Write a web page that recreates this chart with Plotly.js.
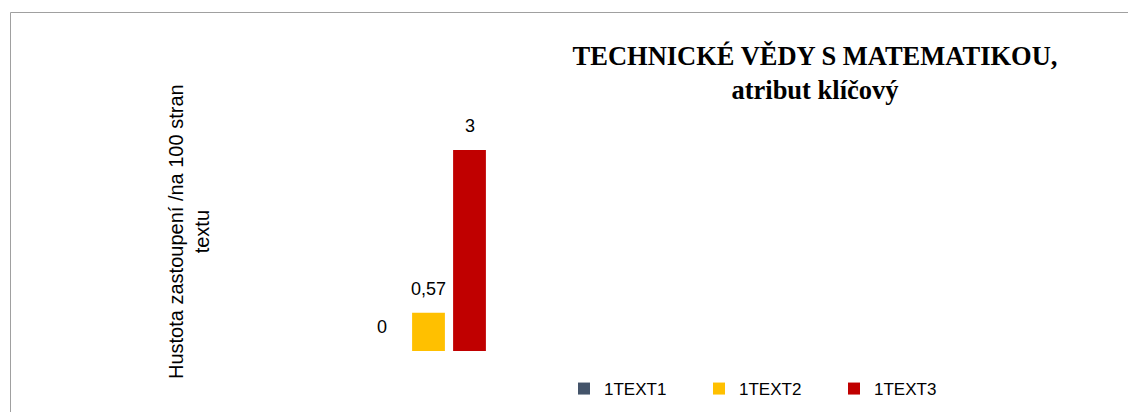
<!DOCTYPE html>
<html>
<head>
<meta charset="utf-8">
<script src="https://cdn.plot.ly/plotly-3.0.1.min.js"></script>
<style>html,body{margin:0;padding:0;background:#fff;}#chart{width:1128px;height:412px;}</style>
</head>
<body>
<div id="chart"></div>
<script>
const seriesNames = ["1TEXT1", "1TEXT2", "1TEXT3"];
const seriesValues = [0, 0.57, 3];
const seriesColors = ["#44546A", "#FFC000", "#C00000"];
const titleLines = ["TECHNICKÉ VĚDY S MATEMATIKOU,", "atribut klíčový"];
const yTitleLines = ["Hustota zastoupení /na 100 stran", "textu"];

const positions = [1, 2, 3];
const fmt = v => String(v).replace('.', ',');

// plot area geometry (pixels)
const PL = 240, PR = 1028, PT = 130, PB = 351;
const PW = PR - PL, PH = PB - PT;
const px2x = p => (p - PL) / PW;
const px2y = p => (PB - p) / PH;

const traces = seriesNames.map((name, i) => ({
  type: 'bar',
  name: name,
  x: [positions[i]],
  y: [seriesValues[i]],
  width: 0.8,
  marker: {color: seriesColors[i]},
  hoverinfo: 'skip'
}));

const valueAnnotations = seriesNames.map((name, i) => ({
  x: positions[i], y: seriesValues[i], xref: 'x', yref: 'y',
  text: fmt(seriesValues[i]), showarrow: false,
  yanchor: 'middle', xanchor: 'center', yshift: 24, xshift: seriesValues[i] === 0 ? -6 : 0,
  font: {family: 'Liberation Sans, Arial, sans-serif', size: 18, color: '#000'}
}));

const yTitleAnnotation = {
  xref: 'paper', yref: 'paper',
  x: px2x(189), y: px2y(232),
  text: yTitleLines.join('<br>'),
  textangle: -90, showarrow: false, xanchor: 'center', yanchor: 'middle',
  font: {family: 'Liberation Sans, Arial, sans-serif', size: 20, color: '#000'}
};

const layout = {
  width: 1128, height: 412,
  margin: {l: PL, r: 1128 - PR, t: PT, b: 412 - PB, pad: 0},
  paper_bgcolor: '#fff', plot_bgcolor: 'rgba(0,0,0,0)',
  barmode: 'overlay',
  separators: ',.',
  title: {
    text: '<b>' + titleLines[0] + '</b><br><b>' + titleLines[1] + '</b>',
    xref: 'container', yref: 'container',
    x: 815 / 1128, xanchor: 'center',
    y: 1 - 65 / 412, yanchor: 'middle',
    font: {family: 'Liberation Serif, Times New Roman, serif', size: 26.5, color: '#000'}
  },
  xaxis: {
    type: 'linear',
    range: [2 - (428.5 - PL) / 41, 2 + (PR - 428.5) / 41],
    visible: false, fixedrange: true
  },
  yaxis: {
    range: [0, PH / 67],
    showgrid: false, zeroline: false, showticklabels: false, ticks: '', showline: false,
    fixedrange: true
  },
  showlegend: true,
  legend: {
    orientation: 'h',
    xref: 'container', yref: 'container',
    x: 564 / 1128, xanchor: 'left',
    y: 1 - 389 / 412, yanchor: 'middle',
    entrywidth: 90, entrywidthmode: 'pixels',
    font: {family: 'Liberation Sans, Arial, sans-serif', size: 17, color: '#000'},
    bgcolor: 'rgba(0,0,0,0)', borderwidth: 0,
    traceorder: 'normal'
  },
  annotations: valueAnnotations.concat([yTitleAnnotation]),
  shapes: [{
    type: 'rect', xref: 'paper', yref: 'paper',
    x0: px2x(10.5), x1: px2x(1140),
    y0: px2y(420), y1: px2y(12.5),
    line: {color: '#a0a0a0', width: 1}, fillcolor: 'rgba(0,0,0,0)', layer: 'below'
  }]
};

Plotly.newPlot('chart', traces, layout, {displayModeBar: false, staticPlot: true});
</script>
</body>
</html>
